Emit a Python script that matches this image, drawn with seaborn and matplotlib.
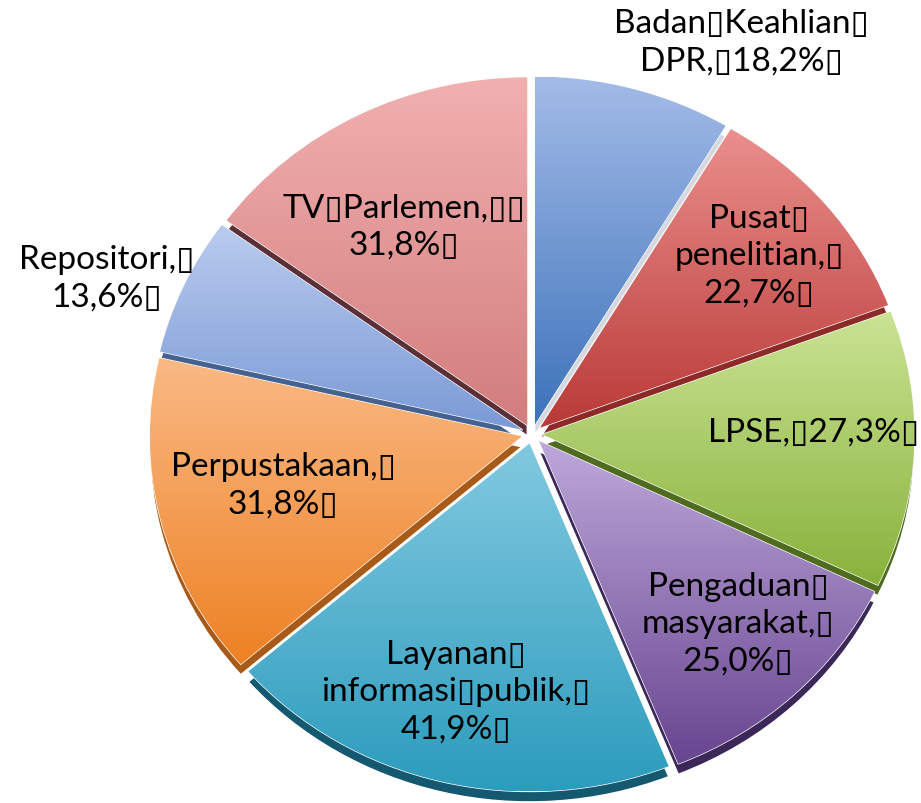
import numpy as np
import matplotlib
matplotlib.use('Agg')
import matplotlib.pyplot as plt
from matplotlib.colors import LinearSegmentedColormap
import seaborn as sns

# Data
categories = ['Badan Keahlian DPR', 'Pusat penelitian', 'LPSE', 'Pengaduan masyarakat',
              'Layanan informasi publik', 'Perpustakaan', 'Repositori', 'TV Parlemen']
values = [18.2, 22.7, 27.3, 25.0, 41.9, 31.8, 13.6, 31.8]

# Slice labels as they appear, with the missing-glyph boxes of the source
labels = ['Badan\u25afKeahlian\u25af\nDPR,\u25af18,2%\u25af',
          'Pusat\u25af\npenelitian,\u25af\n22,7%\u25af',
          'LPSE,\u25af27,3%\u25af',
          'Pengaduan\u25af\nmasyarakat,\u25af\n25,0%\u25af',
          'Layanan\u25af\ninformasi\u25afpublik,\u25af\n41,9%\u25af',
          'Perpustakaan,\u25af\n31,8%\u25af',
          'Repositori,\u25af\n13,6%\u25af',
          'TV\u25afParlemen,\u25af\u25af\n31,8%\u25af']
label_x = [741, 759, 814, 738, 456, 283, 107, 404]
label_y = [43, 256, 433, 624, 692, 486, 279, 227]

top_colors = ['#a3bbe8', '#ea8f8c', '#cbe394', '#bda8da', '#82c9e0', '#fab985', '#bacbee', '#f2b0b0']
bottom_colors = ['#3c72ba', '#b93a38', '#88b23c', '#684590', '#2c9cbd', '#ee8124', '#7a9ad6', '#d27d7d']
shadow_colors = ['#d5d8de', '#8c2a28', '#4f6b20', '#3c2858', '#14596f', '#a85a18', '#45618f', '#5a3038']

W, H = 921, 804
cx, cy = 532, 435
rx, ry = 372, 348

sns.set_theme(style='white')
plt.rcParams['font.family'] = ['Lato', 'DejaVu Sans']

fig, ax = plt.subplots(figsize=(W / 100, H / 100), dpi=100)
fig.subplots_adjust(left=0, right=1, bottom=0, top=1)

explode = [0.028] * len(values)

# dark copy of the pie, pushed down, gives the bevel edge
shadow, _ = ax.pie(values, startangle=90, counterclock=False, explode=explode,
                   colors=shadow_colors, center=(0, -0.03))
for w in shadow:
    w.set_zorder(1)

wedges, _ = ax.pie(values, startangle=90, counterclock=False, explode=explode,
                   colors=top_colors)

# vertical gradient on every slice
for w, c1, c2 in zip(wedges, top_colors, bottom_colors):
    w.set_zorder(2)
    box = w.get_path().get_extents()
    cmap = LinearSegmentedColormap.from_list('slice', [c1, c2])
    grad = np.linspace(0, 1, 256).reshape(-1, 1)
    im = ax.imshow(grad, cmap=cmap, aspect='auto', zorder=3, origin='upper',
                   extent=(box.x0, box.x1, box.y0, box.y1))
    im.set_clip_path(w)

ax.set_aspect('auto')
ax.set_xlim(-cx / rx, (W - cx) / rx)
ax.set_ylim(-(H - cy) / ry, cy / ry)
ax.axis('off')

for lab, x, y in zip(labels, label_x, label_y):
    fig.text(x / W, 1 - y / H, lab, ha='center', va='center', fontsize=24,
             color='black', linespacing=1.3, zorder=5)

plt.savefig('out.png', dpi=100)
